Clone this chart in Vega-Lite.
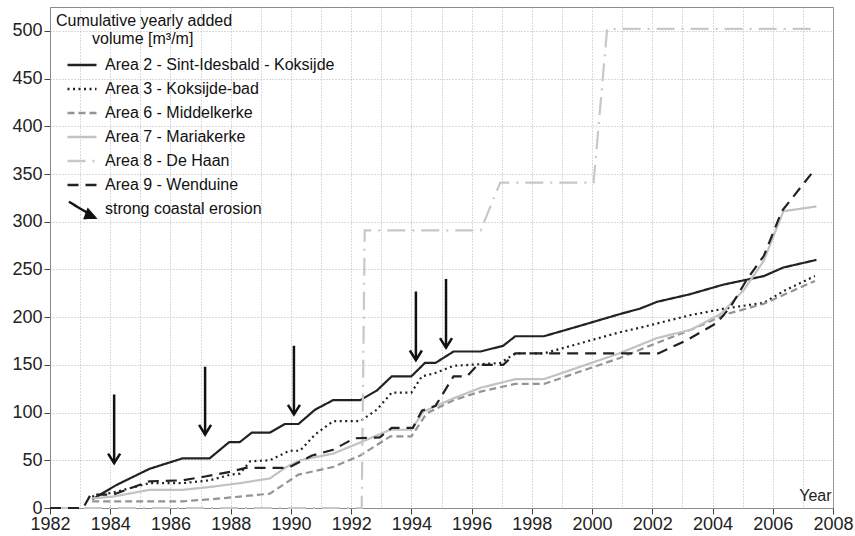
{
  "$schema": "https://vega.github.io/schema/vega-lite/v6.json",
  "autosize": {"type": "none"},
  "padding": {"left": 50, "top": 7, "right": 22, "bottom": 28},
  "width": 783,
  "height": 501,
  "config": {
    "font": "Liberation Sans",
    "view": {"stroke": "#8a8a8a", "strokeWidth": 1},
    "axis": {
      "labelFont": "Liberation Sans",
      "labelFontSize": 18,
      "labelColor": "#222",
      "domainColor": "#8a8a8a",
      "tickColor": "#444",
      "tickSize": 6,
      "gridColor": "#b5b5b5",
      "gridDash": [1, 2],
      "gridWidth": 1
    }
  },
  "datasets": {
    "lines": [
      {"area": "Area 2 - Sint-Idesbald - Koksijde", "year": 1983.4, "v": 9},
      {"area": "Area 2 - Sint-Idesbald - Koksijde", "year": 1984.2, "v": 24},
      {"area": "Area 2 - Sint-Idesbald - Koksijde", "year": 1985.3, "v": 41},
      {"area": "Area 2 - Sint-Idesbald - Koksijde", "year": 1986.4, "v": 52},
      {"area": "Area 2 - Sint-Idesbald - Koksijde", "year": 1987.3, "v": 52},
      {"area": "Area 2 - Sint-Idesbald - Koksijde", "year": 1987.95, "v": 69},
      {"area": "Area 2 - Sint-Idesbald - Koksijde", "year": 1988.3, "v": 69},
      {"area": "Area 2 - Sint-Idesbald - Koksijde", "year": 1988.7, "v": 79},
      {"area": "Area 2 - Sint-Idesbald - Koksijde", "year": 1989.3, "v": 79},
      {"area": "Area 2 - Sint-Idesbald - Koksijde", "year": 1989.8, "v": 88},
      {"area": "Area 2 - Sint-Idesbald - Koksijde", "year": 1990.25, "v": 88},
      {"area": "Area 2 - Sint-Idesbald - Koksijde", "year": 1990.8, "v": 103},
      {"area": "Area 2 - Sint-Idesbald - Koksijde", "year": 1991.4, "v": 113},
      {"area": "Area 2 - Sint-Idesbald - Koksijde", "year": 1992.3, "v": 113},
      {"area": "Area 2 - Sint-Idesbald - Koksijde", "year": 1992.85, "v": 123},
      {"area": "Area 2 - Sint-Idesbald - Koksijde", "year": 1993.35, "v": 138},
      {"area": "Area 2 - Sint-Idesbald - Koksijde", "year": 1994.0, "v": 138},
      {"area": "Area 2 - Sint-Idesbald - Koksijde", "year": 1994.45, "v": 152},
      {"area": "Area 2 - Sint-Idesbald - Koksijde", "year": 1994.8, "v": 152},
      {"area": "Area 2 - Sint-Idesbald - Koksijde", "year": 1995.4, "v": 164},
      {"area": "Area 2 - Sint-Idesbald - Koksijde", "year": 1996.3, "v": 164},
      {"area": "Area 2 - Sint-Idesbald - Koksijde", "year": 1997.05, "v": 170},
      {"area": "Area 2 - Sint-Idesbald - Koksijde", "year": 1997.45, "v": 180},
      {"area": "Area 2 - Sint-Idesbald - Koksijde", "year": 1998.4, "v": 180},
      {"area": "Area 2 - Sint-Idesbald - Koksijde", "year": 1999.5, "v": 190},
      {"area": "Area 2 - Sint-Idesbald - Koksijde", "year": 2000.9, "v": 203},
      {"area": "Area 2 - Sint-Idesbald - Koksijde", "year": 2001.6, "v": 209},
      {"area": "Area 2 - Sint-Idesbald - Koksijde", "year": 2002.15, "v": 216},
      {"area": "Area 2 - Sint-Idesbald - Koksijde", "year": 2003.25, "v": 224},
      {"area": "Area 2 - Sint-Idesbald - Koksijde", "year": 2004.35, "v": 234},
      {"area": "Area 2 - Sint-Idesbald - Koksijde", "year": 2005.1, "v": 239},
      {"area": "Area 2 - Sint-Idesbald - Koksijde", "year": 2005.7, "v": 243},
      {"area": "Area 2 - Sint-Idesbald - Koksijde", "year": 2006.35, "v": 252},
      {"area": "Area 2 - Sint-Idesbald - Koksijde", "year": 2007.45, "v": 260},

      {"area": "Area 3 - Koksijde-bad", "year": 1983.4, "v": 12},
      {"area": "Area 3 - Koksijde-bad", "year": 1984.2, "v": 17},
      {"area": "Area 3 - Koksijde-bad", "year": 1985.3, "v": 26},
      {"area": "Area 3 - Koksijde-bad", "year": 1986.4, "v": 26},
      {"area": "Area 3 - Koksijde-bad", "year": 1987.3, "v": 29},
      {"area": "Area 3 - Koksijde-bad", "year": 1988.0, "v": 35},
      {"area": "Area 3 - Koksijde-bad", "year": 1988.3, "v": 36},
      {"area": "Area 3 - Koksijde-bad", "year": 1988.65, "v": 49},
      {"area": "Area 3 - Koksijde-bad", "year": 1989.3, "v": 50},
      {"area": "Area 3 - Koksijde-bad", "year": 1989.95, "v": 60},
      {"area": "Area 3 - Koksijde-bad", "year": 1990.3, "v": 60},
      {"area": "Area 3 - Koksijde-bad", "year": 1990.8, "v": 77},
      {"area": "Area 3 - Koksijde-bad", "year": 1991.4, "v": 91},
      {"area": "Area 3 - Koksijde-bad", "year": 1992.3, "v": 91},
      {"area": "Area 3 - Koksijde-bad", "year": 1992.85, "v": 103},
      {"area": "Area 3 - Koksijde-bad", "year": 1993.35, "v": 121},
      {"area": "Area 3 - Koksijde-bad", "year": 1994.0, "v": 121},
      {"area": "Area 3 - Koksijde-bad", "year": 1994.35, "v": 138},
      {"area": "Area 3 - Koksijde-bad", "year": 1994.75, "v": 141},
      {"area": "Area 3 - Koksijde-bad", "year": 1995.4, "v": 149},
      {"area": "Area 3 - Koksijde-bad", "year": 1996.95, "v": 152},
      {"area": "Area 3 - Koksijde-bad", "year": 1997.45, "v": 162},
      {"area": "Area 3 - Koksijde-bad", "year": 1998.4, "v": 162},
      {"area": "Area 3 - Koksijde-bad", "year": 2000.9, "v": 184},
      {"area": "Area 3 - Koksijde-bad", "year": 2001.6, "v": 189},
      {"area": "Area 3 - Koksijde-bad", "year": 2003.25, "v": 202},
      {"area": "Area 3 - Koksijde-bad", "year": 2004.4, "v": 209},
      {"area": "Area 3 - Koksijde-bad", "year": 2005.7, "v": 215},
      {"area": "Area 3 - Koksijde-bad", "year": 2006.4, "v": 228},
      {"area": "Area 3 - Koksijde-bad", "year": 2007.4, "v": 243},

      {"area": "Area 6 - Middelkerke", "year": 1983.4, "v": 7},
      {"area": "Area 6 - Middelkerke", "year": 1984.2, "v": 7},
      {"area": "Area 6 - Middelkerke", "year": 1986.4, "v": 7},
      {"area": "Area 6 - Middelkerke", "year": 1987.3, "v": 9},
      {"area": "Area 6 - Middelkerke", "year": 1988.3, "v": 12},
      {"area": "Area 6 - Middelkerke", "year": 1989.3, "v": 15},
      {"area": "Area 6 - Middelkerke", "year": 1990.25, "v": 35},
      {"area": "Area 6 - Middelkerke", "year": 1991.4, "v": 43},
      {"area": "Area 6 - Middelkerke", "year": 1992.3, "v": 55},
      {"area": "Area 6 - Middelkerke", "year": 1993.3, "v": 75},
      {"area": "Area 6 - Middelkerke", "year": 1994.0, "v": 75},
      {"area": "Area 6 - Middelkerke", "year": 1994.5, "v": 99},
      {"area": "Area 6 - Middelkerke", "year": 1995.4, "v": 113},
      {"area": "Area 6 - Middelkerke", "year": 1996.3, "v": 122},
      {"area": "Area 6 - Middelkerke", "year": 1997.45, "v": 130},
      {"area": "Area 6 - Middelkerke", "year": 1998.4, "v": 130},
      {"area": "Area 6 - Middelkerke", "year": 2000.9, "v": 157},
      {"area": "Area 6 - Middelkerke", "year": 2002.15, "v": 173},
      {"area": "Area 6 - Middelkerke", "year": 2003.3, "v": 187},
      {"area": "Area 6 - Middelkerke", "year": 2004.45, "v": 203},
      {"area": "Area 6 - Middelkerke", "year": 2005.7, "v": 214},
      {"area": "Area 6 - Middelkerke", "year": 2007.4, "v": 238},

      {"area": "Area 7 - Mariakerke", "year": 1983.4, "v": 10},
      {"area": "Area 7 - Mariakerke", "year": 1984.1, "v": 12},
      {"area": "Area 7 - Mariakerke", "year": 1985.3, "v": 19},
      {"area": "Area 7 - Mariakerke", "year": 1986.4, "v": 19},
      {"area": "Area 7 - Mariakerke", "year": 1987.3, "v": 22},
      {"area": "Area 7 - Mariakerke", "year": 1988.3, "v": 26},
      {"area": "Area 7 - Mariakerke", "year": 1989.3, "v": 31},
      {"area": "Area 7 - Mariakerke", "year": 1989.85, "v": 43},
      {"area": "Area 7 - Mariakerke", "year": 1990.3, "v": 50},
      {"area": "Area 7 - Mariakerke", "year": 1991.4, "v": 57},
      {"area": "Area 7 - Mariakerke", "year": 1992.1, "v": 66},
      {"area": "Area 7 - Mariakerke", "year": 1993.3, "v": 82},
      {"area": "Area 7 - Mariakerke", "year": 1994.0, "v": 82},
      {"area": "Area 7 - Mariakerke", "year": 1994.4, "v": 101},
      {"area": "Area 7 - Mariakerke", "year": 1995.4, "v": 115},
      {"area": "Area 7 - Mariakerke", "year": 1996.3, "v": 126},
      {"area": "Area 7 - Mariakerke", "year": 1997.45, "v": 135},
      {"area": "Area 7 - Mariakerke", "year": 1998.4, "v": 135},
      {"area": "Area 7 - Mariakerke", "year": 2000.9, "v": 162},
      {"area": "Area 7 - Mariakerke", "year": 2002.15, "v": 178},
      {"area": "Area 7 - Mariakerke", "year": 2003.3, "v": 187},
      {"area": "Area 7 - Mariakerke", "year": 2004.3, "v": 204},
      {"area": "Area 7 - Mariakerke", "year": 2005.05, "v": 229},
      {"area": "Area 7 - Mariakerke", "year": 2005.7, "v": 259},
      {"area": "Area 7 - Mariakerke", "year": 2006.35, "v": 311},
      {"area": "Area 7 - Mariakerke", "year": 2007.45, "v": 316},

      {"area": "Area 8 - De Haan", "year": 1982.0, "v": 0},
      {"area": "Area 8 - De Haan", "year": 1992.35, "v": 0},
      {"area": "Area 8 - De Haan", "year": 1992.45, "v": 291},
      {"area": "Area 8 - De Haan", "year": 1996.3, "v": 291},
      {"area": "Area 8 - De Haan", "year": 1996.95, "v": 341},
      {"area": "Area 8 - De Haan", "year": 2000.05, "v": 341},
      {"area": "Area 8 - De Haan", "year": 2000.5, "v": 502},
      {"area": "Area 8 - De Haan", "year": 2007.3, "v": 502},

      {"area": "Area 9 - Wenduine", "year": 1982.0, "v": 0},
      {"area": "Area 9 - Wenduine", "year": 1983.1, "v": 0},
      {"area": "Area 9 - Wenduine", "year": 1983.35, "v": 14},
      {"area": "Area 9 - Wenduine", "year": 1984.1, "v": 14},
      {"area": "Area 9 - Wenduine", "year": 1985.3, "v": 28},
      {"area": "Area 9 - Wenduine", "year": 1986.4, "v": 29},
      {"area": "Area 9 - Wenduine", "year": 1987.15, "v": 33},
      {"area": "Area 9 - Wenduine", "year": 1988.0, "v": 38},
      {"area": "Area 9 - Wenduine", "year": 1988.5, "v": 42},
      {"area": "Area 9 - Wenduine", "year": 1989.9, "v": 42},
      {"area": "Area 9 - Wenduine", "year": 1990.7, "v": 55},
      {"area": "Area 9 - Wenduine", "year": 1991.4, "v": 61},
      {"area": "Area 9 - Wenduine", "year": 1992.1, "v": 73},
      {"area": "Area 9 - Wenduine", "year": 1992.95, "v": 74},
      {"area": "Area 9 - Wenduine", "year": 1993.35, "v": 84},
      {"area": "Area 9 - Wenduine", "year": 1994.05, "v": 84},
      {"area": "Area 9 - Wenduine", "year": 1994.35, "v": 102},
      {"area": "Area 9 - Wenduine", "year": 1994.8, "v": 107},
      {"area": "Area 9 - Wenduine", "year": 1995.4, "v": 138},
      {"area": "Area 9 - Wenduine", "year": 1995.85, "v": 138},
      {"area": "Area 9 - Wenduine", "year": 1996.2, "v": 150},
      {"area": "Area 9 - Wenduine", "year": 1997.05, "v": 150},
      {"area": "Area 9 - Wenduine", "year": 1997.45, "v": 162},
      {"area": "Area 9 - Wenduine", "year": 2002.2, "v": 162},
      {"area": "Area 9 - Wenduine", "year": 2003.15, "v": 176},
      {"area": "Area 9 - Wenduine", "year": 2004.15, "v": 194},
      {"area": "Area 9 - Wenduine", "year": 2004.6, "v": 211},
      {"area": "Area 9 - Wenduine", "year": 2005.15, "v": 240},
      {"area": "Area 9 - Wenduine", "year": 2005.7, "v": 264},
      {"area": "Area 9 - Wenduine", "year": 2006.3, "v": 311},
      {"area": "Area 9 - Wenduine", "year": 2007.4, "v": 355}
    ],
    "arrows": [
      {"area": "strong coastal erosion", "year": 1984.13, "top": 119, "tip": 47},
      {"area": "strong coastal erosion", "year": 1987.15, "top": 148, "tip": 77},
      {"area": "strong coastal erosion", "year": 1990.1, "top": 170, "tip": 98},
      {"area": "strong coastal erosion", "year": 1994.15, "top": 227, "tip": 155},
      {"area": "strong coastal erosion", "year": 1995.15, "top": 240, "tip": 168}
    ]
  },
  "encoding": {
    "x": {
      "field": "year",
      "type": "quantitative",
      "scale": {"domain": [1982, 2008], "nice": false, "zero": false},
      "axis": {
        "values": [1982,1983,1984,1985,1986,1987,1988,1989,1990,1991,1992,1993,1994,1995,1996,1997,1998,1999,2000,2001,2002,2003,2004,2005,2006,2007,2008],
        "format": "d",
        "labelExpr": "datum.value % 2 == 0 ? datum.label : ''",
        "tickOpacity": {"condition": {"test": "datum.value % 2 == 0", "value": 1}, "value": 0},
        "labelPadding": 1,
        "labelFlush": false,
        "title": "Year",
        "titleFontSize": 16,
        "titleFontWeight": "normal",
        "titleColor": "#222",
        "titleX": 781,
        "titleY": -5,
        "titleAlign": "right",
        "titleBaseline": "bottom",
        "titleAnchor": null
      }
    }
  },
  "layer": [
    {
      "data": {"name": "lines"},
      "mark": {"type": "line", "strokeWidth": 2.2, "strokeCap": "butt"},
      "encoding": {
        "y": {
          "field": "v",
          "type": "quantitative",
          "scale": {"domain": [0, 525], "nice": false},
          "axis": {
            "values": [0,25,50,75,100,125,150,175,200,225,250,275,300,325,350,375,400,425,450,475,500,525],
            "labelExpr": "datum.value % 50 == 0 ? datum.label : ''",
            "tickOpacity": {"condition": {"test": "datum.value % 50 == 0", "value": 1}, "value": 0},
            "labelPadding": 2,
            "title": null
          }
        },
        "color": {
          "field": "area",
          "type": "nominal",
          "scale": {
            "domain": ["Area 2 - Sint-Idesbald - Koksijde", "Area 3 - Koksijde-bad", "Area 6 - Middelkerke", "Area 7 - Mariakerke", "Area 8 - De Haan", "Area 9 - Wenduine", "strong coastal erosion"],
            "range": ["#222222", "#222222", "#949494", "#c2c2c2", "#c8c8c8", "#222222", "#111111"]
          },
          "legend": {
            "title": ["Cumulative yearly added", "\u2800\u2800\u2800volume [m³/m]"],
            "orient": "top-left",
            "offset": 6,
            "padding": 0,
            "titleFont": "Liberation Sans",
            "titleFontSize": 16,
            "titleFontWeight": "normal",
            "titleColor": "#111",
            "titleLineHeight": 18,
            "titlePadding": 2,
            "labelFont": "Liberation Sans",
            "labelFontSize": 16,
            "labelColor": "#111",
            "labelOffset": 7,
            "labelLimit": 0,
            "symbolType": "stroke",
            "symbolSize": 841,
            "symbolStrokeWidth": 2.4,
            "symbolOffset": 10,
            "rowPadding": 0,
            "fillColor": null,
            "encode": {
              "symbols": {
                "update": {
                  "shape": {"signal": "datum.value === 'strong coastal erosion' ? 'M-0.9,-0.5L0.62,0.42M0.42,0.05L0.9,0.6L0.2,0.62Z' : 'stroke'"},
                  "fill": {"signal": "datum.value === 'strong coastal erosion' ? '#111111' : 'transparent'"}
                }
              }
            }
          }
        },
        "strokeDash": {
          "field": "area",
          "type": "nominal",
          "scale": {
            "domain": ["Area 2 - Sint-Idesbald - Koksijde", "Area 3 - Koksijde-bad", "Area 6 - Middelkerke", "Area 7 - Mariakerke", "Area 8 - De Haan", "Area 9 - Wenduine", "strong coastal erosion"],
            "range": [[1, 0], [2, 3.5], [7, 4], [1, 0], [18, 7, 2, 7], [11, 7], [1, 0]]
          },
          "legend": {
            "title": ["Cumulative yearly added", "\u2800\u2800\u2800volume [m³/m]"],
            "orient": "top-left"
          }
        }
      }
    },
    {
      "data": {"name": "arrows"},
      "mark": {"type": "rule", "strokeWidth": 2.5},
      "encoding": {
        "y": {"field": "top", "type": "quantitative"},
        "y2": {"field": "tip"},
        "color": {"field": "area", "type": "nominal"},
        "strokeDash": {"field": "area", "type": "nominal"}
      }
    },
    {
      "data": {"name": "arrows"},
      "mark": {
        "type": "point",
        "shape": "M-1,-1.6L0,0L1,-1.6",
        "filled": false,
        "size": 144,
        "stroke": "#111111",
        "strokeWidth": 2.5,
        "strokeJoin": "miter",
        "opacity": 1
      },
      "encoding": {
        "y": {"field": "tip", "type": "quantitative"}
      }
    }
  ]
}
